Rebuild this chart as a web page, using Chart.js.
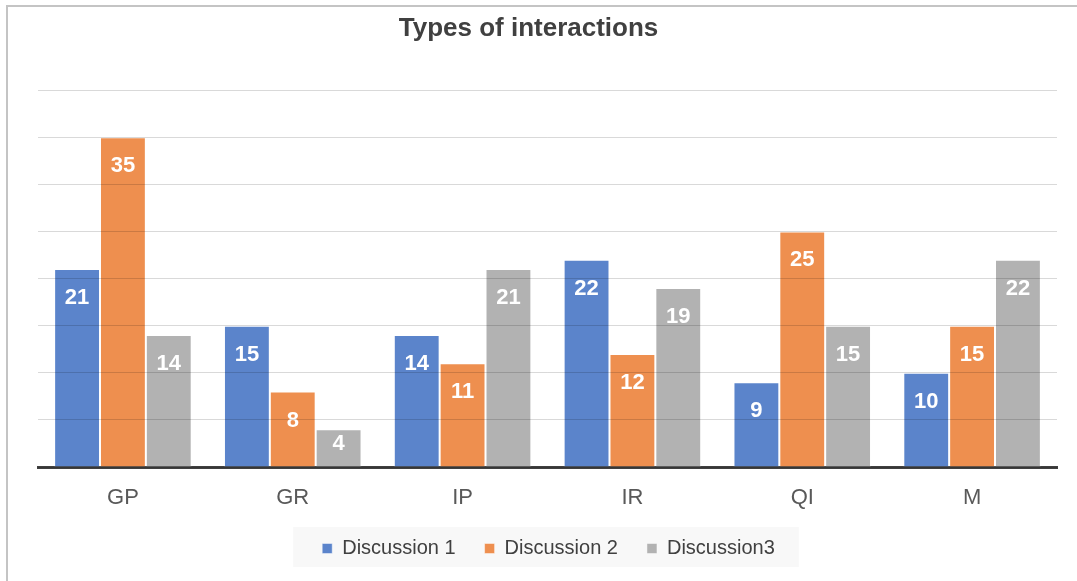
<!DOCTYPE html>
<html>
<head>
<meta charset="utf-8">
<script src="https://cdn.jsdelivr.net/npm/chart.js@4/dist/chart.umd.min.js"></script>
<style>
  html, body { margin: 0; padding: 0; background: #fff; overflow: hidden; }
  #frame { position: absolute; left: 6px; top: 5px; width: 1100px; height: 600px;
           border-left: 2px solid #c4c4c4; border-top: 2px solid #c4c4c4; }
  #bar_chart { position: absolute; left: 0; top: 0; }
</style>
</head>
<body>
<div id="frame"></div>
<canvas id="bar_chart" width="1077" height="581"></canvas>
<script>
var categories = ["GP", "GR", "IP", "IR", "QI", "M"];
var discussion1 = [21, 15, 14, 22, 9, 10];
var discussion2 = [35, 8, 11, 12, 25, 15];
var discussion3 = [14, 4, 21, 19, 15, 22];
var seriesNames = ["Discussion 1", "Discussion 2", "Discussion3"];

var FONT = "'Liberation Sans', Arial, sans-serif";

// white value labels inside the top of each bar
var valueLabels = {
    id: 'valueLabels',
    afterDatasetsDraw: function (chart) {
        var ctx = chart.ctx;
        ctx.save();
        ctx.fillStyle = '#ffffff';
        ctx.font = 'bold 22px ' + FONT;
        ctx.textAlign = 'center';
        ctx.textBaseline = 'alphabetic';
        chart.data.datasets.forEach(function (ds, i) {
            chart.getDatasetMeta(i).data.forEach(function (bar, j) {
                var h = bar.base - bar.y;
                var y = bar.y + Math.min(35, h / 2 + 2);
                ctx.fillText(ds.data[j], bar.x, y);
            });
        });
        ctx.restore();
    }
};

// legend sits a bit right of the title; grey box behind it
var legendBox = {
    id: 'legendBox',
    afterLayout: function (chart) {
        chart.legend.left += 20;
        chart.legend.right += 20;
    },
    beforeDraw: function (chart) {
        var boxes = chart.legend && chart.legend.legendHitBoxes;
        if (!boxes || !boxes.length) return;
        var left = boxes[0].left - 29;
        var last = boxes[boxes.length - 1];
        var right = last.left + last.width + 24;
        var ctx = chart.ctx;
        ctx.save();
        ctx.fillStyle = '#f8f8f8';
        ctx.fillRect(left, 527, right - left, 40);
        ctx.restore();
    }
};

new Chart(document.getElementById("bar_chart").getContext("2d"), {
    type: 'bar',
    data: {
        labels: categories,
        datasets: [{
            label: seriesNames[0],
            data: discussion1,
            backgroundColor: '#5b84cb',
            borderColor: 'rgba(255,255,255,0.45)',
            borderWidth: 1
        }, {
            label: seriesNames[1],
            data: discussion2,
            backgroundColor: '#ee8f4f',
            borderColor: 'rgba(255,255,255,0.45)',
            borderWidth: 1
        }, {
            label: seriesNames[2],
            data: discussion3,
            backgroundColor: '#b2b2b2',
            borderColor: 'rgba(255,255,255,0.45)',
            borderWidth: 1
        }]
    },
    options: {
        responsive: false,
        animation: false,
        maintainAspectRatio: false,
        layout: { padding: { top: 13, left: 0, right: 20, bottom: 12.5 } },
        datasets: { bar: { categoryPercentage: 0.81, barPercentage: 1.0 } },
        plugins: {
            title: {
                display: true,
                text: 'Types of interactions',
                color: '#404040',
                font: { family: FONT, size: 26, weight: 'bold', lineHeight: 1.2 },
                padding: { top: 0, bottom: 45.8 }
            },
            legend: {
                position: 'bottom',
                labels: {
                    color: '#404040',
                    font: { family: FONT, size: 20 },
                    boxWidth: 10,
                    boxHeight: 10,
                    padding: 29
                }
            },
            tooltip: { enabled: false }
        },
        scales: {
            x: {
                grid: { display: false, drawTicks: false },
                border: { color: '#404040', width: 3 },
                ticks: { color: '#595959', font: { family: FONT, size: 22 }, padding: 18 },
                afterFit: function (s) { s.height = 42.5; }
            },
            y: {
                min: 0,
                max: 40,
                ticks: { display: false, stepSize: 5 },
                border: { display: false },
                grid: { color: 'rgba(0,0,0,0.15)', drawTicks: false, z: 1 },
                afterFit: function (s) { s.width = 38; }
            }
        }
    },
    plugins: [valueLabels, legendBox]
});
</script>
</body>
</html>
